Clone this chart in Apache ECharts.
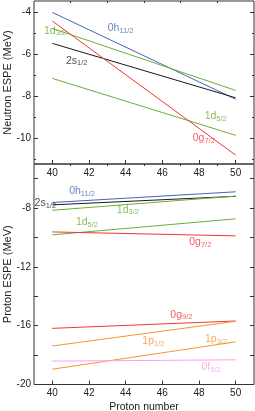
<!DOCTYPE html>
<html><head><meta charset="utf-8">
<script src="https://cdn.jsdelivr.net/npm/echarts@6/dist/echarts.min.js"></script>
<style>html,body{margin:0;padding:0;background:#fff}#c{width:255px;height:411px}</style>
</head><body><div id="c"></div>
<script>
// x values (proton number) of line endpoints
const protonNumbers = [40, 50];
const xTicks = [40, 42, 44, 46, 48, 50];
const xMinorTicks = [41, 43, 45, 47, 49];
const nYTicks = [-10, -8, -6, -4];
const nYMinorTicks = [-11, -9, -7, -5];
const pYLabels = [-20, -16, -12, -8];
const pYTicks = [-20, -18, -16, -14, -12, -10, -8, -6];

// Neutron ESPE (MeV) at Z=40 and Z=50
const nH11 = [-4.03, -8.15];
const nD32 = [-4.79, -7.73];
const nS12 = [-5.50, -8.08];
const nD52 = [-7.16, -9.86];
const nG72 = [-4.44, -10.80];

// Proton ESPE (MeV) at Z=40 and Z=50
const pH11 = [-7.62, -6.89];
const pS12 = [-7.78, -7.20];
const pD32 = [-8.15, -7.18];
const pD52 = [-9.82, -8.73];
const pG72 = [-9.62, -9.89];
const pG92 = [-16.18, -15.68];
const pP12 = [-17.38, -15.70];
const pP32 = [-18.96, -17.10];
const pF52 = [-18.41, -18.32];

// orbital labels: main part, subscript, anchor (data coords)
const nLabMain = ['0h', '1d', '2s', '1d', '0g'];
const nLabSub = ['11/2', '3/2', '1/2', '5/2', '7/2'];
const nLabX = [43.72, 40.15, 41.33, 48.91, 48.26];
const nLabY = [-4.81, -4.93, -6.35, -8.98, -10.03];

const pLabMain = ['0h', '2s', '1d', '1d', '0g', '0g', '1p', '1p', '0f'];
const pLabSub = ['11/2', '1/2', '3/2', '5/2', '7/2', '9/2', '1/2', '3/2', '5/2'];
const pLabX = [41.62, 39.62, 44.12, 41.89, 48.07, 47.04, 45.51, 48.93, 48.66];
const pLabY = [-6.89, -7.71, -8.14, -9.02, -10.36, -15.3, -17.1, -16.95, -18.86];

const C = {blue:'#3f66b5', green:'#6aae33', black:'#1a1a1a', red:'#f03636', orange:'#f5952a', pink:'#f5a2ef'};
const nColors = [C.blue, C.green, C.black, C.green, C.red];
const pColors = [C.blue, C.black, C.green, C.green, C.red, C.red, C.orange, C.orange, C.pink];

const FONT = 'Liberation Sans';
const pts = v => protonNumbers.map((x, i) => [x, v[i]]);
function line(g, v, color) {
  return {type:'line', xAxisIndex:g, yAxisIndex:g*4, data:pts(v), symbol:'none',
    lineStyle:{color, width:1}, silent:true, animation:false};
}
function labels(g, main, sub, xs, ys, colors) {
  return {type:'scatter', xAxisIndex:g, yAxisIndex:g*4, symbolSize:0.001, silent:true, animation:false, z:10,
    itemStyle:{color:'rgba(0,0,0,0)'},
    data: main.map((m, i) => ({value:[xs[i], ys[i]], label:{show:true, position:'inside',
      formatter:'{m|' + m + '}{s|' + sub[i] + '}',
      rich:{m:{fontSize:10.5, fontFamily:FONT, color:colors[i], verticalAlign:'top', lineHeight:12},
            s:{fontSize:7.5, fontFamily:FONT, color:colors[i], verticalAlign:'bottom', lineHeight:8, padding:[5.8,0,0,0]}}}}))
  };
}
function xAxes(g, withName) {
  const base = {gridIndex:g, type:'value', min:39, max:51, splitLine:{show:false}, axisLine:{show:false}};
  return [
    Object.assign({}, base, {
      axisTick:{show:true, inside:true, length:4, customValues:xTicks, lineStyle:{color:'#333'}},
      axisLabel:{customValues:xTicks, fontSize:10, fontFamily:FONT, color:'#222', margin:4},
      name: withName ? 'Proton number' : '', nameLocation:'middle', nameGap:17, nameMoveOverlap:false,
      nameTextStyle:{fontSize:10.5, fontFamily:FONT, color:'#222'}
    }),
    Object.assign({}, base, {
      axisTick:{show:true, inside:true, length:2, customValues:xMinorTicks, lineStyle:{color:'#333'}},
      axisLabel:{show:false}
    })
  ];
}
function yAxes(g, min, max, labs, ticks, minor, name) {
  const base = {gridIndex:g, type:'value', min, max, splitLine:{show:false}, axisLine:{show:false}};
  const lab = {customValues:labs, fontSize:10, fontFamily:FONT, color:'#222', margin:3};
  return [
    Object.assign({}, base, {position:'left',
      axisTick:{show:true, inside:true, length:4, customValues:ticks, lineStyle:{color:'#333'}},
      axisLabel:lab, name, nameLocation:'middle', nameGap:21, nameMoveOverlap:false,
      nameTextStyle:{fontSize:11, fontFamily:FONT, color:'#222'}}),
    Object.assign({}, base, {position:'left',
      axisTick:{show:minor.length>0, inside:true, length:2, customValues:minor.length?minor:[min], lineStyle:{color:'#333'}},
      axisLabel:{show:false}}),
    Object.assign({}, base, {position:'right',
      axisTick:{show:true, inside:true, length:4, customValues:ticks, lineStyle:{color:'#333'}},
      axisLabel:{show:false}}),
    Object.assign({}, base, {position:'right',
      axisTick:{show:minor.length>0, inside:true, length:2, customValues:minor.length?minor:[min], lineStyle:{color:'#333'}},
      axisLabel:{show:false}})
  ];
}

const xa0 = xAxes(0, false), xa1 = xAxes(1, true);
const ya0 = yAxes(0, -11.22, -3.49, nYTicks, nYTicks, nYMinorTicks, 'Neutron ESPE (MeV)');
const ya1 = yAxes(1, -20, -5, pYLabels, pYTicks, [], 'Proton ESPE (MeV)');

const option = {
  animation:false,
  grid:[
    {left:34, right:1, top:1, height:163, show:true, borderColor:'#333', borderWidth:1, backgroundColor:'transparent', outerBoundsMode:'none', containLabel:false},
    {left:34, right:1, top:164, bottom:26.5, show:true, borderColor:'#333', borderWidth:1, backgroundColor:'transparent', outerBoundsMode:'none', containLabel:false}
  ],
  xAxis:[xa0[0], xa1[0], xa0[1], xa1[1]],
  yAxis:[...ya0, ...ya1],
  series:[
    line(0, nH11, C.blue), line(0, nD32, C.green), line(0, nS12, C.black), line(0, nD52, C.green), line(0, nG72, C.red),
    labels(0, nLabMain, nLabSub, nLabX, nLabY, nColors),
    line(1, pH11, C.blue), line(1, pS12, C.black), line(1, pD32, C.green), line(1, pD52, C.green), line(1, pG72, C.red),
    line(1, pG92, C.red), line(1, pP12, C.orange), line(1, pP32, C.orange), line(1, pF52, C.pink),
    labels(1, pLabMain, pLabSub, pLabX, pLabY, pColors)
  ]
};
const chart = echarts.init(document.getElementById('c'), null, {renderer:'canvas'});
chart.setOption(option);
</script></body></html>
